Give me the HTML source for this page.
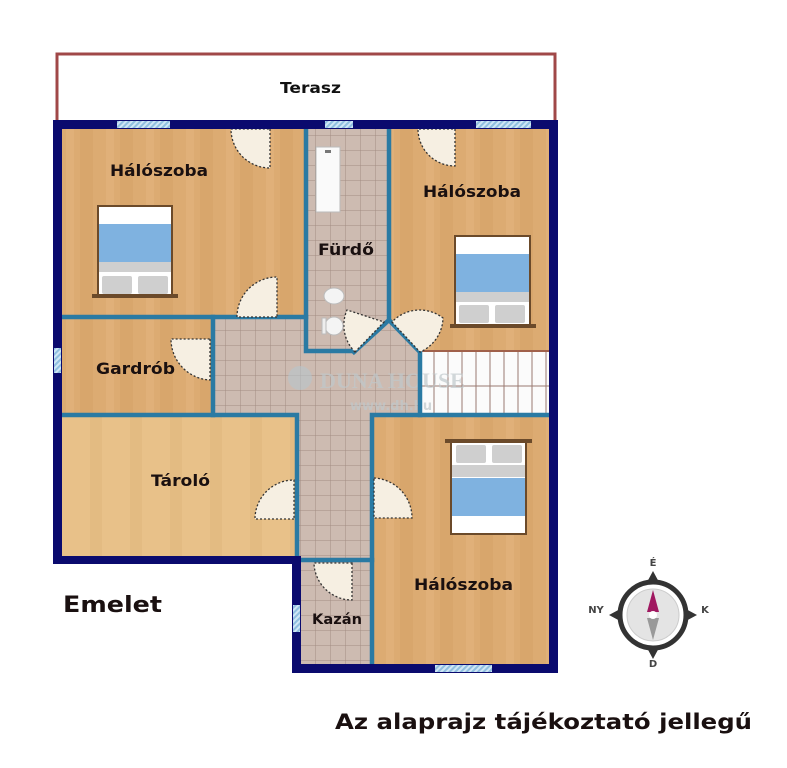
<!DOCTYPE html>
<html><head><meta charset="utf-8"><style>
html,body{margin:0;padding:0;background:#fff;}
svg{display:block;font-family:"DejaVu Sans","Liberation Sans",sans-serif;font-weight:bold;}
</style></head><body>
<svg width="787" height="768" viewBox="0 0 787 768" xmlns="http://www.w3.org/2000/svg">
<defs>
<pattern id="tile" width="15" height="15" patternUnits="userSpaceOnUse">
<rect width="15" height="15" fill="#cdbbb1"/>
<path d="M0 0H15M0 0V15" stroke="#a28c82" stroke-width="1"/>
</pattern>
<pattern id="wood" width="40" height="60" patternUnits="userSpaceOnUse">
<rect width="40" height="60" fill="#dcab72"/>
<rect x="0" width="13" height="60" fill="#d8a66c"/>
<rect x="26" width="8" height="60" fill="#e0b079"/>
</pattern>
<pattern id="wood2" width="40" height="60" patternUnits="userSpaceOnUse">
<rect width="40" height="60" fill="#e8c189"/>
<rect x="10" width="12" height="60" fill="#e3bb82"/>
</pattern>
<pattern id="hatch" width="4" height="4" patternUnits="userSpaceOnUse" patternTransform="rotate(45)">
<rect width="4" height="4" fill="#cfe6f5"/><rect width="2" height="4" fill="#8fbfe0"/>
</pattern>
</defs>

<!-- terrace -->
<path d="M57 120V54H555V120" fill="none" stroke="#a04848" stroke-width="3"/>
<text x="280" y="93" font-size="15" textLength="61" lengthAdjust="spacingAndGlyphs" fill="#111">Terasz</text>

<!-- floors -->
<path d="M62 129H549V664H296V556H62Z" fill="url(#wood)"/>
<rect x="62" y="415" width="234" height="141" fill="url(#wood2)"/>
<rect x="305" y="129" width="85" height="223" fill="url(#tile)"/>
<path d="M213 317H305V352H355L390 320L420 352V415H372V664H296V415H213Z" fill="url(#tile)"/>
<rect x="420" y="351" width="129" height="64" fill="#fbfbfb"/>
<g stroke="#9a7a70" stroke-width="1">
<path d="M420 386H549"/>
<path d="M434 351V415M448 351V415M462 351V415M476 351V415M490 351V415M504 351V415M518 351V415M532 351V415M546 351V415"/>
</g>
<path d="M420 351H549" stroke="#a0604a" stroke-width="2"/>

<!-- watermark -->
<circle cx="300" cy="378" r="12" fill="#b8c4cc" opacity="0.6"/>
<text x="320" y="388" font-size="22" font-family="Liberation Serif,serif" fill="#c0c8cc" opacity="0.7">DUNA HOUSE</text>
<text x="350" y="410" font-size="13" fill="#c0c8cc" opacity="0.7">www.dh.hu</text>

<!-- inner walls -->
<g stroke="#2a7aa3" stroke-width="4.5" fill="none" stroke-linecap="square">
<path d="M306 129V351H354"/>
<path d="M389 129V320"/>
<path d="M354 352L389 320L420 352V415"/>
<path d="M62 317H306"/>
<path d="M213 317V415"/>
<path d="M62 415H297V556"/>
<path d="M372 664V415H549"/>
<path d="M301 560H372"/>
</g>

<!-- doors -->
<g fill="#f6efe2" stroke="#333" stroke-width="1.3" stroke-dasharray="2 2">
<path d="M270 129V168A39 39 0 0 1 231 129Z"/>
<path d="M455 129V166A37 37 0 0 1 418 129Z"/>
<path d="M277 317H237A40 40 0 0 1 277 277Z"/>
<path d="M210 339V380A41 41 0 0 1 171 339Z"/>
<path d="M294 519H255A39 39 0 0 1 294 480Z"/>
<path d="M374 478A40 40 0 0 1 412 518H374Z"/>
<path d="M352 563V600A38 38 0 0 1 314 563Z"/>
<path d="M355 352A38 38 0 0 1 347 310L384 322Z"/>
<path d="M392 322L420 352A38 38 0 0 0 443 318A38 38 0 0 0 392 322Z"/>
</g>

<!-- beds -->
<g>
<rect x="98" y="206" width="74" height="90" fill="#fff" stroke="#6b4a2a" stroke-width="2"/>
<rect x="99" y="224" width="72" height="38" fill="#7fb2e0"/>
<rect x="99" y="262" width="72" height="10" fill="#cfcfcf"/>
<rect x="102" y="276" width="30" height="18" fill="#cfcfcf" rx="2"/><rect x="138" y="276" width="30" height="18" fill="#cfcfcf" rx="2"/>
<rect x="92" y="294" width="86" height="4" fill="#6b4a2a"/>

<rect x="455" y="236" width="75" height="89" fill="#fff" stroke="#6b4a2a" stroke-width="2"/>
<rect x="456" y="254" width="73" height="38" fill="#7fb2e0"/>
<rect x="456" y="292" width="73" height="10" fill="#cfcfcf"/>
<rect x="459" y="305" width="30" height="18" fill="#cfcfcf" rx="2"/><rect x="495" y="305" width="30" height="18" fill="#cfcfcf" rx="2"/>
<rect x="450" y="324" width="86" height="4" fill="#6b4a2a"/>

<rect x="451" y="441" width="75" height="93" fill="#fff" stroke="#6b4a2a" stroke-width="2"/>
<rect x="452" y="478" width="73" height="38" fill="#7fb2e0"/>
<rect x="452" y="465" width="73" height="12" fill="#cfcfcf"/>
<rect x="456" y="445" width="30" height="18" fill="#cfcfcf" rx="2"/><rect x="492" y="445" width="30" height="18" fill="#cfcfcf" rx="2"/>
<rect x="445" y="439" width="87" height="4" fill="#6b4a2a"/>
</g>

<!-- bathroom fixtures -->
<rect x="316" y="147" width="24" height="65" fill="#fafafa" stroke="#bbb"/>
<rect x="325" y="150" width="6" height="3" fill="#777"/>
<ellipse cx="334" cy="296" rx="10" ry="8" fill="#f4f4f4" stroke="#bbb"/>
<ellipse cx="334" cy="326" rx="9" ry="9" fill="#f4f4f4" stroke="#bbb"/>
<rect x="322" y="318" width="4" height="16" fill="#eee" stroke="#bbb"/>

<!-- outer walls -->
<g fill="#0a0a6e">
<rect x="53" y="120" width="505" height="9"/>
<rect x="53" y="120" width="9" height="444"/>
<rect x="549" y="120" width="9" height="553"/>
<rect x="53" y="556" width="248" height="8"/>
<rect x="292" y="556" width="9" height="117"/>
<rect x="292" y="664" width="266" height="9"/>
</g>
<!-- windows -->
<rect x="117" y="121" width="53" height="7" fill="url(#hatch)"/>
<rect x="325" y="121" width="28" height="7" fill="url(#hatch)"/>
<rect x="476" y="121" width="55" height="7" fill="url(#hatch)"/>
<rect x="54" y="348" width="7" height="25" fill="url(#hatch)"/>
<rect x="293" y="605" width="7" height="27" fill="url(#hatch)"/>
<rect x="435" y="665" width="57" height="7" fill="url(#hatch)"/>

<!-- labels -->
<g fill="#1a1010" font-size="16">
<text x="110" y="176" textLength="98" lengthAdjust="spacingAndGlyphs">Hálószoba</text>
<text x="423" y="197" textLength="98" lengthAdjust="spacingAndGlyphs">Hálószoba</text>
<text x="318" y="255" textLength="56" lengthAdjust="spacingAndGlyphs">Fürdő</text>
<text x="96" y="374" textLength="79" lengthAdjust="spacingAndGlyphs">Gardrób</text>
<text x="151" y="486" textLength="59" lengthAdjust="spacingAndGlyphs">Tároló</text>
<text x="414" y="590" textLength="99" lengthAdjust="spacingAndGlyphs">Hálószoba</text>
<text x="312" y="624" font-size="14" textLength="50" lengthAdjust="spacingAndGlyphs">Kazán</text>
<text x="63" y="612" font-size="22" textLength="99" lengthAdjust="spacingAndGlyphs">Emelet</text>
<text x="335" y="729" font-size="21" textLength="417" lengthAdjust="spacingAndGlyphs">Az alaprajz tájékoztató jellegű</text>
</g>

<!-- compass -->
<g>
<path d="M653 571L660 584H646Z M653 659L660 646H646Z M609 615L622 608V622Z M697 615L684 608V622Z" fill="#333"/>
<circle cx="653" cy="615" r="33" fill="#fff" stroke="#333" stroke-width="5"/>
<circle cx="653" cy="615" r="26" fill="#e4e4e4" stroke="#ccc"/>
<path d="M653 590L659 612H647Z" fill="#a01860"/>
<path d="M653 640L659 618H647Z" fill="#999"/>
<circle cx="653" cy="615" r="4" fill="#fff"/>
<text x="653" y="566" font-size="10" text-anchor="middle" fill="#444">É</text>
<text x="653" y="667" font-size="10" text-anchor="middle" fill="#444">D</text>
<text x="596" y="613" font-size="10" text-anchor="middle" fill="#444">NY</text>
<text x="705" y="613" font-size="10" text-anchor="middle" fill="#444">K</text>
</g>
</svg>
</body></html>
